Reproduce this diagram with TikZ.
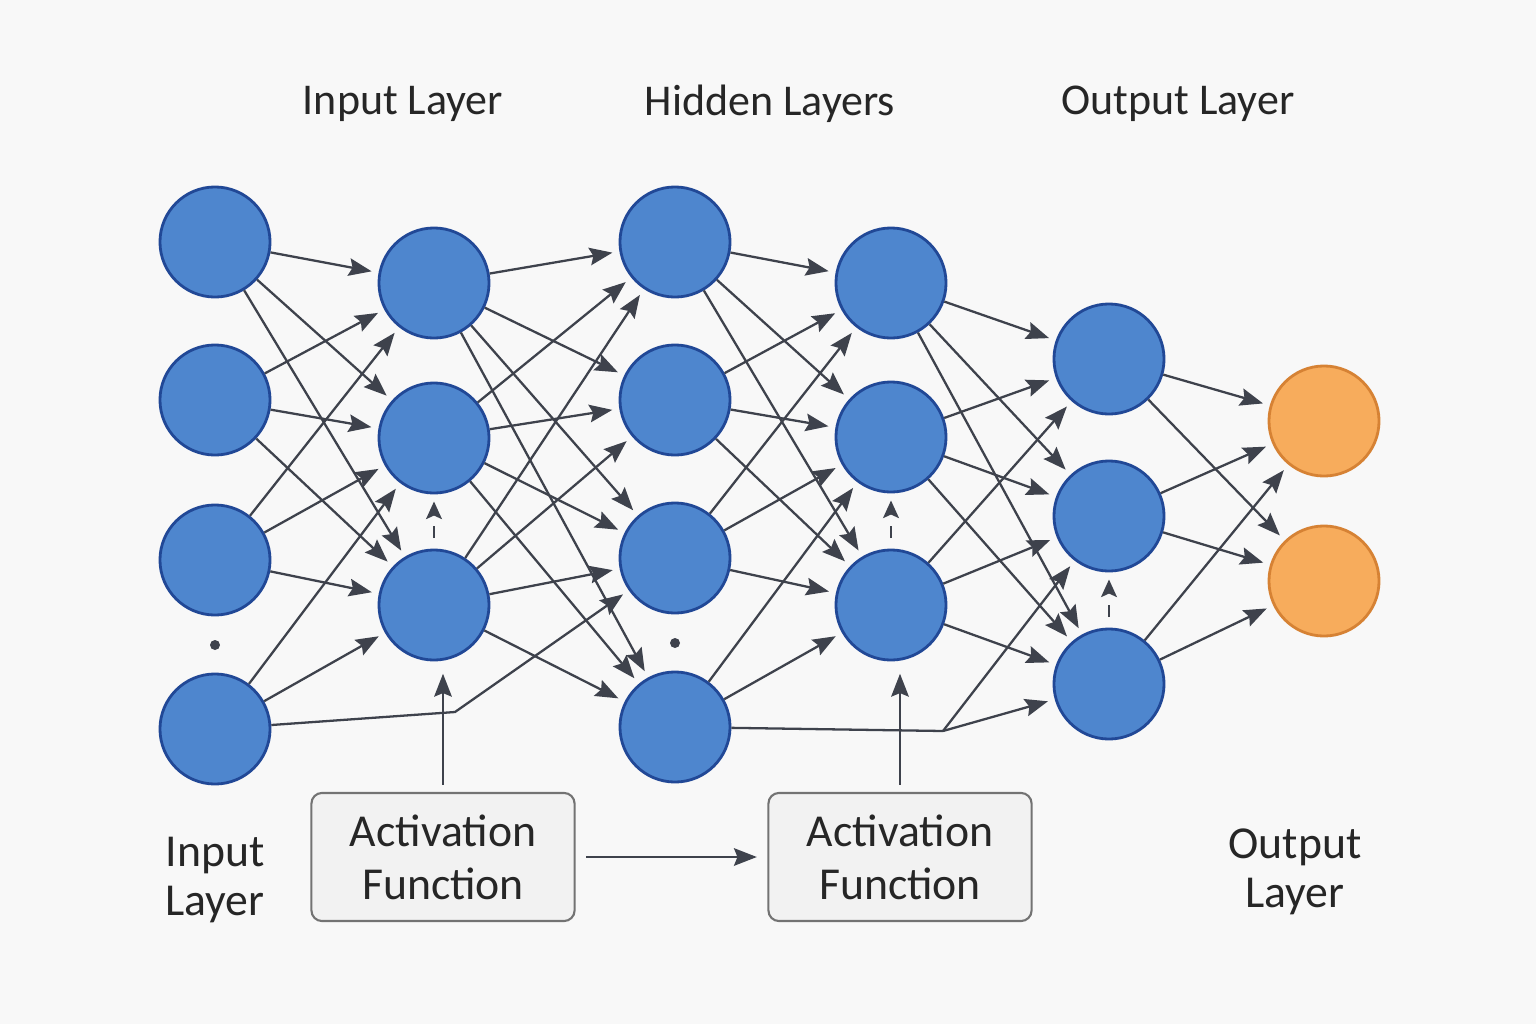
\documentclass[tikz,border=0pt]{standalone}
\usepackage{fontspec}
\setmainfont{Carlito}
\usetikzlibrary{arrows.meta}
\definecolor{nnblue}{RGB}{78,134,206}
\definecolor{nnblueline}{RGB}{33,72,150}
\definecolor{nnorange}{RGB}{247,172,92}
\definecolor{nnorangeline}{RGB}{214,130,52}
\definecolor{nnedge}{RGB}{62,66,76}
\definecolor{nnbg}{RGB}{248,248,248}
\definecolor{nnbox}{RGB}{242,242,242}
\tikzset{
    neuron/.style={
        circle,draw=#1line,fill=#1,line width=0.8pt,
        minimum size=1.1cm,inner sep=0pt
    },
    neuron/.default=nnblue,
    funcbox/.style={
        draw=black!55,fill=nnbox,rounded corners=3pt,line width=0.6pt,
        minimum width=2.63cm,minimum height=1.28cm,align=center,
        font=\fontsize{13}{15}\selectfont,text=black!85
    },
    label/.style={
        align=center,font=\fontsize{12.5}{14.5}\selectfont,text=black!85
    },
    arrow/.style={
        -{Stealth[length=6.5pt,width=5pt,inset=1pt]},line width=0.65pt,
        draw=nnedge,shorten >=2pt
    },
    dasharrow/.style={
        -{Stealth[length=5pt,width=4.5pt,inset=1pt]},line width=0.65pt,
        draw=nnedge,dash pattern=on 3.3pt off 4pt,
        shorten >=2pt,shorten <=3pt
    }
}

\begin{document}
\begin{tikzpicture}[x=0.01cm,y=-0.01cm]

\fill[nnbg] (0,0) rectangle (1536,1024);
\useasboundingbox (0,0) rectangle (1536,1024);

% titles
\node[label] (tin) at (403,104){Input Layer};
\node[label] (thid) at (770,104){Hidden Layers};
\node[label] (tout) at (1178,104){Output Layer};

% neurons
\node[neuron] (a1) at (215,242){};
\node[neuron] (a2) at (215,400){};
\node[neuron] (a3) at (215,560){};
\node[neuron] (a4) at (215,729){};

\node[neuron] (b1) at (434,283){};
\node[neuron] (b2) at (434,438){};
\node[neuron] (b3) at (434,605){};

\node[neuron] (c1) at (675,242){};
\node[neuron] (c2) at (675,400){};
\node[neuron] (c3) at (675,558){};
\node[neuron] (c4) at (675,727){};

\node[neuron] (d1) at (891,283){};
\node[neuron] (d2) at (891,437){};
\node[neuron] (d3) at (891,605){};

\node[neuron] (e1) at (1109,359){};
\node[neuron] (e2) at (1109,516){};
\node[neuron] (e3) at (1109,684){};

\node[neuron=nnorange] (f1) at (1324,421){};
\node[neuron=nnorange] (f2) at (1324,581){};

\fill[nnedge] (215,645) circle (5);
\fill[nnedge] (675,643) circle (5);

\coordinate (k1) at (455,712);
\coordinate (k2) at (943,731);

% input -> first hidden
\draw[arrow](a1)--(b1); \draw[arrow](a1)--(b2); \draw[arrow](a1)--(b3);
\draw[arrow](a2)--(b1); \draw[arrow](a2)--(b2); \draw[arrow](a2)--(b3);
\draw[arrow](a3)--(b1); \draw[arrow](a3)--(b2); \draw[arrow](a3)--(b3);
\draw[arrow](a4)--(b2); \draw[arrow](a4)--(b3);
\draw[arrow](a4)--(k1)--(c3);

% first hidden -> second hidden
\draw[arrow](b1)--(c1); \draw[arrow](b1)--(c2); \draw[arrow](b1)--(c3); \draw[arrow](b1)--(c4);
\draw[arrow](b2)--(c1); \draw[arrow](b2)--(c2); \draw[arrow](b2)--(c3); \draw[arrow](b2)--(c4);
\draw[arrow](b3)--(c1); \draw[arrow](b3)--(c2); \draw[arrow](b3)--(c3); \draw[arrow](b3)--(c4);

% second hidden -> third hidden
\draw[arrow](c1)--(d1); \draw[arrow](c1)--(d2); \draw[arrow](c1)--(d3);
\draw[arrow](c2)--(d1); \draw[arrow](c2)--(d2); \draw[arrow](c2)--(d3);
\draw[arrow](c3)--(d1); \draw[arrow](c3)--(d2); \draw[arrow](c3)--(d3);
\draw[arrow](c4)--(d2); \draw[arrow](c4)--(d3);
\draw[line width=0.65pt,draw=nnedge](c4)--(k2);

% third hidden -> fourth hidden
\draw[arrow](d1)--(e1); \draw[arrow](d1)--(e2); \draw[arrow](d1)--(e3);
\draw[arrow](d2)--(e1); \draw[arrow](d2)--(e2); \draw[arrow](d2)--(e3);
\draw[arrow](d3)--(e1); \draw[arrow](d3)--(e2); \draw[arrow](d3)--(e3);
\draw[arrow](k2)--(e2); \draw[arrow](k2)--(e3);

% output
\draw[arrow](e1)--(f1); \draw[arrow](e1)--(f2);
\draw[arrow](e2)--(f1); \draw[arrow](e2)--(f2);
\draw[arrow](e3)--(f1); \draw[arrow](e3)--(f2);

% small dashed links
\draw[dasharrow](b3)--(b2);
\draw[dasharrow](d3)--(d2);
\draw[dasharrow](e3)--(e2);

% activation boxes
\node[funcbox] (act1) at (443,857){Activation\\Function};
\node[funcbox] (act2) at (900,857){Activation\\Function};

\draw[arrow,shorten <=3pt,shorten >=3pt](act1)--(act2);
\draw[arrow,shorten <=2pt,shorten >=3.5pt](act1)--(act1 |- b3.south);
\draw[arrow,shorten <=2pt,shorten >=3.5pt](act2)--(act2 |- d3.south);

% side labels
\node[label,font=\fontsize{13}{14}\selectfont] (lin) at (215,880){Input\\Layer};
\node[label,font=\fontsize{13}{14}\selectfont] (lout) at (1295,872){Output\\Layer};

\end{tikzpicture}
\end{document}
